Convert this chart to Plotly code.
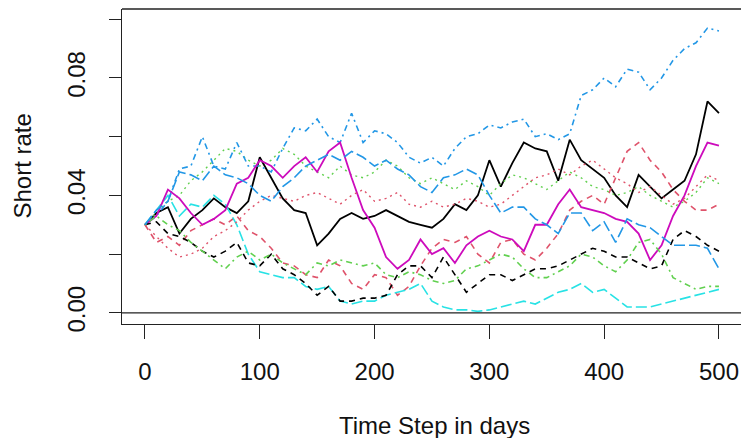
import plotly.graph_objects as go

days = list(range(0, 501, 10))

# series (short rate, every 10 days)
black_solid = [0.030, 0.034, 0.036, 0.027, 0.032, 0.035, 0.039, 0.036, 0.034, 0.038,
               0.053, 0.046, 0.039, 0.035, 0.034, 0.023, 0.027, 0.032, 0.034, 0.032,
               0.033, 0.035, 0.033, 0.031, 0.030, 0.029, 0.032, 0.037, 0.035, 0.040,
               0.052, 0.043, 0.051, 0.058, 0.056, 0.055, 0.045, 0.059, 0.052, 0.049,
               0.046, 0.040, 0.036, 0.047, 0.043, 0.039, 0.042, 0.045, 0.054, 0.072, 0.068]
red_dashed = [0.030, 0.024, 0.026, 0.023, 0.028, 0.030, 0.032, 0.030, 0.033, 0.028,
              0.026, 0.022, 0.017, 0.016, 0.013, 0.012, 0.018, 0.016, 0.010, 0.008,
              0.013, 0.012, 0.006, 0.009, 0.016, 0.022, 0.025, 0.024, 0.026, 0.020,
              0.017, 0.024, 0.025, 0.020, 0.018, 0.022, 0.027, 0.035, 0.038, 0.040,
              0.037, 0.046, 0.055, 0.058, 0.052, 0.048, 0.042, 0.038, 0.035, 0.035, 0.037]
green_dotted = [0.030, 0.034, 0.038, 0.040, 0.045, 0.048, 0.052, 0.056, 0.055, 0.052,
                0.050, 0.052, 0.056, 0.054, 0.050, 0.048, 0.046, 0.050, 0.047, 0.046,
                0.048, 0.052, 0.050, 0.046, 0.044, 0.046, 0.044, 0.042, 0.045, 0.043,
                0.040, 0.044, 0.047, 0.046, 0.044, 0.042, 0.045, 0.048, 0.046, 0.043,
                0.042, 0.040, 0.041, 0.043, 0.040, 0.038, 0.036, 0.038, 0.041, 0.046, 0.044]
blue_dotdash = [0.030, 0.033, 0.038, 0.049, 0.050, 0.060, 0.050, 0.049, 0.058, 0.050,
                0.050, 0.048, 0.056, 0.063, 0.062, 0.066, 0.060, 0.058, 0.068, 0.058,
                0.062, 0.061, 0.058, 0.053, 0.051, 0.053, 0.050, 0.056, 0.060, 0.061,
                0.064, 0.063, 0.065, 0.066, 0.060, 0.061, 0.059, 0.061, 0.074, 0.076,
                0.080, 0.077, 0.083, 0.082, 0.076, 0.080, 0.086, 0.090, 0.092, 0.097, 0.096]
cyan_longdash = [0.030, 0.035, 0.040, 0.033, 0.037, 0.036, 0.040, 0.037, 0.030, 0.020,
                 0.014, 0.013, 0.012, 0.012, 0.009, 0.008, 0.009, 0.004, 0.003, 0.004,
                 0.004, 0.006, 0.007, 0.008, 0.010, 0.004, 0.002, 0.001, 0.001, 0.0005,
                 0.001, 0.002, 0.003, 0.004, 0.003, 0.005, 0.007, 0.008, 0.010, 0.007,
                 0.008, 0.005, 0.002, 0.002, 0.002, 0.003, 0.004, 0.005, 0.006, 0.007, 0.008]
magenta_solid = [0.030, 0.033, 0.042, 0.039, 0.034, 0.030, 0.032, 0.035, 0.044, 0.046,
                 0.052, 0.050, 0.046, 0.050, 0.053, 0.048, 0.055, 0.058, 0.046, 0.035,
                 0.029, 0.019, 0.015, 0.018, 0.025, 0.020, 0.022, 0.017, 0.023, 0.026,
                 0.028, 0.026, 0.025, 0.021, 0.030, 0.030, 0.037, 0.042, 0.036, 0.035,
                 0.034, 0.032, 0.031, 0.027, 0.018, 0.023, 0.033, 0.040, 0.050, 0.058, 0.057]
black_dashed = [0.030, 0.031, 0.027, 0.026, 0.024, 0.021, 0.019, 0.021, 0.024, 0.017,
                0.016, 0.020, 0.015, 0.013, 0.010, 0.006, 0.009, 0.004, 0.004, 0.005,
                0.005, 0.006, 0.013, 0.016, 0.016, 0.012, 0.019, 0.013, 0.007, 0.010,
                0.013, 0.013, 0.011, 0.013, 0.015, 0.015, 0.016, 0.018, 0.020, 0.022,
                0.021, 0.019, 0.019, 0.017, 0.015, 0.016, 0.025, 0.028, 0.026, 0.023, 0.021]
red_dotted = [0.030, 0.026, 0.022, 0.019, 0.020, 0.022, 0.026, 0.028, 0.031, 0.035,
              0.038, 0.040, 0.039, 0.038, 0.040, 0.041, 0.039, 0.037, 0.040, 0.042,
              0.038, 0.039, 0.041, 0.037, 0.036, 0.038, 0.036, 0.037, 0.039, 0.038,
              0.036, 0.037, 0.040, 0.043, 0.046, 0.047, 0.049, 0.047, 0.050, 0.052,
              0.049, 0.046, 0.044, 0.041, 0.043, 0.040, 0.037, 0.039, 0.043, 0.047, 0.045]
green_dotdash = [0.030, 0.033, 0.030, 0.028, 0.024, 0.021, 0.018, 0.015, 0.019, 0.021,
                 0.018, 0.020, 0.017, 0.015, 0.013, 0.017, 0.016, 0.018, 0.017, 0.016,
                 0.017, 0.013, 0.012, 0.014, 0.013, 0.011, 0.010, 0.011, 0.015, 0.016,
                 0.018, 0.020, 0.019, 0.015, 0.012, 0.012, 0.014, 0.016, 0.020, 0.019,
                 0.016, 0.014, 0.018, 0.024, 0.025, 0.020, 0.012, 0.010, 0.008, 0.009, 0.009]
blue_longdash = [0.030, 0.035, 0.038, 0.048, 0.047, 0.045, 0.050, 0.047, 0.046, 0.044,
                 0.040, 0.038, 0.043, 0.046, 0.050, 0.052, 0.054, 0.052, 0.055, 0.053,
                 0.050, 0.052, 0.049, 0.047, 0.043, 0.041, 0.046, 0.047, 0.049, 0.047,
                 0.040, 0.034, 0.036, 0.036, 0.032, 0.030, 0.027, 0.034, 0.034, 0.028,
                 0.031, 0.024, 0.032, 0.030, 0.029, 0.026, 0.023, 0.023, 0.023, 0.022, 0.015]

x_ticks = [0, 100, 200, 300, 400, 500]
y_ticks = [0.00, 0.02, 0.04, 0.06, 0.08, 0.10]
y_tick_text = ["0.00", "", "0.04", "", "0.08", ""]

BLACK = "#000000"
RED = "#DF536B"
GREEN = "#61D04F"
BLUE = "#2297E6"
CYAN = "#28E2E5"
MAGENTA = "#CD0BBC"

DASHED = "6px,5px"
DOTTED = "2px,4px"
DOTDASH = "2px,4px,6px,4px"
LONGDASH = "11px,4px"

series = [
    (black_solid, BLACK, "solid", 1.8),
    (red_dashed, RED, DASHED, 1.6),
    (green_dotted, GREEN, DOTTED, 1.4),
    (blue_dotdash, BLUE, DOTDASH, 1.6),
    (cyan_longdash, CYAN, LONGDASH, 1.6),
    (magenta_solid, MAGENTA, "solid", 1.8),
    (black_dashed, BLACK, DASHED, 1.6),
    (red_dotted, RED, DOTTED, 1.4),
    (green_dotdash, GREEN, DOTDASH, 1.6),
    (blue_longdash, BLUE, LONGDASH, 1.6),
]

fig = go.Figure()
for vals, col, dash, w in series:
    fig.add_trace(go.Scatter(x=days, y=vals, mode="lines",
                             line=dict(color=col, dash=dash, width=w),
                             hoverinfo="skip"))

FONT = "Liberation Sans, Arial, sans-serif"
fig.update_layout(
    width=741, height=438,
    margin=dict(l=122, r=0, t=9, b=114),
    paper_bgcolor="white", plot_bgcolor="white",
    showlegend=False,
    font=dict(family=FONT, size=24, color="#111111"),
    xaxis=dict(range=[-20, 519.2], tickvals=x_ticks, ticks="outside", ticklen=14,
               tickwidth=1.2, tickcolor="#222222", showline=True, linecolor="#222222",
               linewidth=1.4, showgrid=False, zeroline=False, ticklabelstandoff=12,
               tickfont=dict(size=24)),
    yaxis=dict(range=[-0.0038, 0.1035], tickvals=y_ticks, ticktext=y_tick_text,
               tickangle=-90, ticks="outside", ticklen=12, tickwidth=1.2,
               tickcolor="#222222", showline=True, linecolor="#222222", linewidth=1.4,
               showgrid=False, zeroline=False, ticklabelstandoff=14,
               tickfont=dict(size=24)),
    shapes=[
        dict(type="line", xref="paper", yref="paper", x0=0, x1=1, y0=1, y1=1,
             line=dict(color="#222222", width=1.4)),
        dict(type="line", xref="paper", yref="y", x0=0, x1=1, y0=0, y1=0,
             line=dict(color="#222222", width=1.2)),
    ],
    annotations=[
        dict(text="Short rate", xref="paper", yref="paper", x=(22 - 122) / 619, y=0.5,
             xanchor="center", yanchor="middle", textangle=-90, showarrow=False,
             font=dict(size=24)),
        dict(text="Time Step in days", xref="paper", yref="paper", x=(434 - 122) / 619,
             y=(324 - 425) / 315, xanchor="center", yanchor="middle", showarrow=False,
             font=dict(size=24)),
    ],
)

fig.write_html("out.html", config={"displayModeBar": False})
